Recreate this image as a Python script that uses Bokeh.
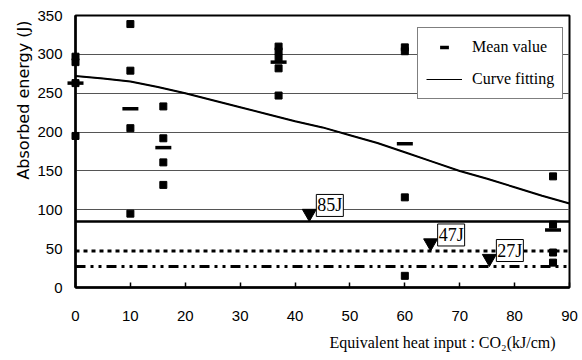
import numpy as np
from bokeh.plotting import figure
from bokeh.models import (Range1d, Span, Label, Legend, LegendItem, FixedTicker, Title)
from bokeh.embed import file_html
from bokeh.resources import INLINE

# ---------------- data ----------------
x_ticks = [0, 10, 20, 30, 40, 50, 60, 70, 80, 90]
y_ticks = [0, 50, 100, 150, 200, 250, 300, 350]
grid_levels = [100, 150, 200, 250, 300]

heat_inputs = [0, 10, 16, 37, 60, 87]
energies = [
    [297, 290, 263, 195],
    [339, 279, 205, 95],
    [233, 192, 161, 132],
    [310, 304, 296, 282, 247],
    [309, 304, 116, 15],
    [143, 81, 45, 32],
]
mean_values = [263, 230, 180, 290, 185, 74]

curve_x = [0, 5, 10, 15, 20, 25, 30, 35, 40, 45, 50, 55, 60, 65, 70, 75, 80, 85, 90]
curve_y = [272, 269, 265, 258, 250, 241, 232, 223, 214, 206, 196, 186, 174, 162, 150, 140, 129, 118, 108]

limit_levels = [85, 47, 27]
limit_labels = ["85J", "47J", "27J"]
limit_marker_x = [42.6, 64.7, 75.4]

y_title = "Absorbed energy (J)"
x_title = "Equivalent heat input :  CO\u2082(kJ/cm)"

# ---------------- figure ----------------
W, H = 582, 360
L, R, T, B = 75, 13, 15, 73
p = figure(width=W, height=H, output_backend="svg", toolbar_location=None,
           x_range=Range1d(0, 90), y_range=Range1d(0, 350),
           min_border_left=L, min_border_right=R, min_border_top=T, min_border_bottom=B)
p.background_fill_color = "white"
p.border_fill_color = "white"
p.outline_line_color = "black"
p.outline_line_width = 2

px_per_J = (H - T - B) / 350.0

# grid
p.xgrid.visible = False
p.ygrid.ticker = FixedTicker(ticks=grid_levels)
p.ygrid.grid_line_color = "#555555"
p.ygrid.grid_line_width = 1

# axes
tick_font = "Liberation Sans"
p.xaxis.ticker = FixedTicker(ticks=x_ticks)
p.yaxis.ticker = FixedTicker(ticks=y_ticks)
for ax in (p.xaxis, p.yaxis):
    ax.axis_line_color = "black"
    ax.axis_line_width = 2.5
    ax.major_label_text_font = tick_font
    ax.major_label_text_font_size = "15px"
    ax.major_label_text_color = "black"
    ax.minor_tick_line_color = None
    ax.major_tick_line_color = "black"
    ax.major_tick_line_width = 1.5
p.xaxis.major_tick_in = 5
p.xaxis.major_tick_out = 0
p.xaxis.major_label_standoff = 23
p.yaxis.major_tick_in = 0
p.yaxis.major_tick_out = 0
p.yaxis.major_label_standoff = 13

# reference lines
line_styles = [("solid", 2.5), ("4 4", 3), ("10 5 3 5 3 5", 3)]
for lvl, (dash, lw) in zip(limit_levels, line_styles):
    p.add_layout(Span(location=lvl, dimension="width", line_color="black",
                      line_width=lw, line_dash=dash))

# curve (thin copy underneath serves as the legend glyph)
curve_legend = p.line(curve_x, curve_y, line_color="black", line_width=1)
p.line(curve_x, curve_y, line_color="black", line_width=2)

# individual points
sx, sy = [], []
for xv, ys in zip(heat_inputs, energies):
    for yv in ys:
        sx.append(xv)
        sy.append(yv)
p.scatter(sx, sy, marker="square", size=7, fill_color="black", line_color="black",
          level="overlay")

# means
means = p.scatter(heat_inputs, mean_values, marker="dash", size=16,
                  line_color="black", line_width=3.5, level="overlay")

# limit markers (inverted triangles with tip on the level)
tri_size = 14
tip_off = (tri_size / 2) * 2 / np.sqrt(3) / px_per_J
tri_y = [lv + tip_off for lv in limit_levels]
p.scatter(limit_marker_x, tri_y, marker="inverted_triangle", size=tri_size,
          fill_color="black", line_color="black")
for xv, lv, txt in zip(limit_marker_x, limit_levels, limit_labels):
    p.add_layout(Label(x=xv, y=lv, x_offset=7, y_offset=5, text=txt,
                       text_align="left", text_baseline="bottom",
                       text_font="Liberation Serif", text_font_size="18px",
                       text_color="black", border_line_color="black",
                       border_line_width=1, background_fill_color="white",
                       padding=1))

# legend
legend = Legend(items=[LegendItem(label="Mean value", renderers=[means]),
                       LegendItem(label="Curve fitting", renderers=[curve_legend])],
                location=(342, 188))
legend.label_text_font = "Liberation Serif"
legend.label_text_font_size = "16px"
legend.label_text_color = "black"
legend.border_line_color = "black"
legend.border_line_width = 1
legend.background_fill_color = "white"
legend.background_fill_alpha = 1
legend.padding = 8
legend.spacing = 10
legend.margin = 0
legend.glyph_width = 36
legend.glyph_height = 22
legend.label_height = 22
legend.label_standoff = 10
p.add_layout(legend, "center")

# axis titles
p.add_layout(Title(text=y_title, align="right", offset=5, standoff=4,
                   text_font="DejaVu Sans", text_font_size="16px",
                   text_font_style="normal", text_color="black"), "left")
p.add_layout(Title(text=x_title, align="right", offset=10, standoff=17,
                   text_font="Liberation Serif", text_font_size="16px",
                   text_font_style="normal", text_color="black"), "below")

open("out.html", "w").write(file_html(p, INLINE))
